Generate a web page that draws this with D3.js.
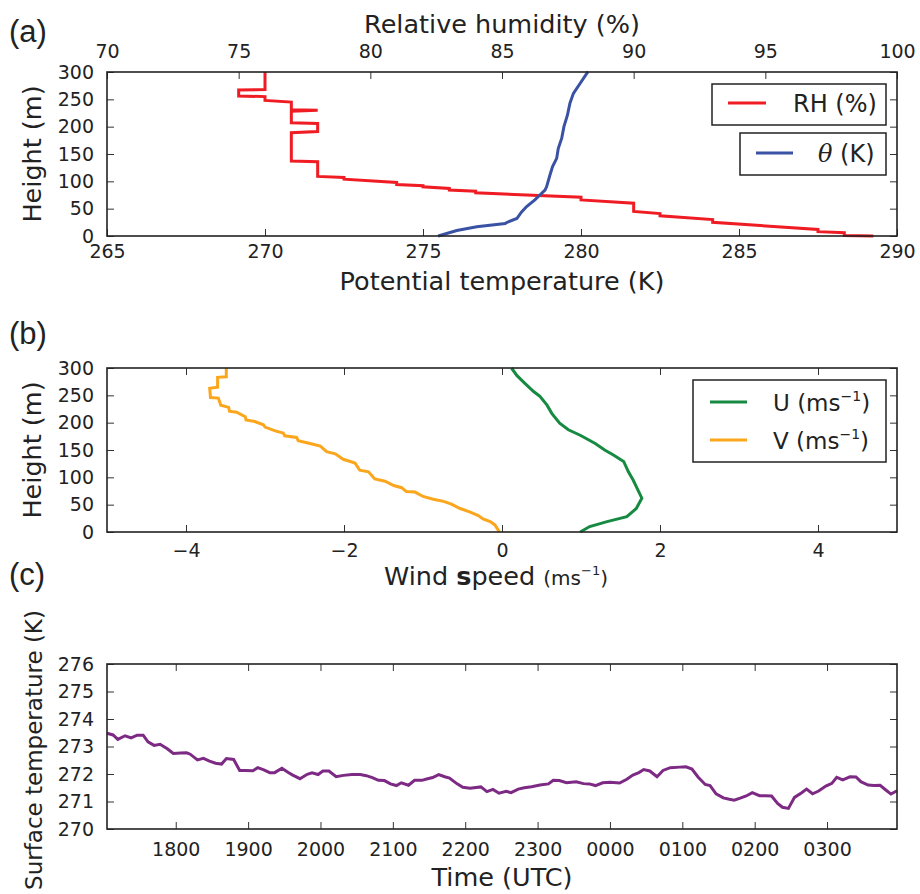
<!DOCTYPE html>
<html>
<head>
<meta charset="utf-8">
<script src="https://cdn.jsdelivr.net/npm/d3@7"></script>
<style>
  body{margin:0;background:#fff;}
  svg text{font-family:"DejaVu Sans",sans-serif;fill:#222;}
</style>
</head>
<body>
<div id="fig"></div>
<script>
/* panel (a): [RH %, height m] and [theta K, height m] */
var rhProfile=[[76.0,300],[76.0,268],[75.0,267],[75.0,256],[76.0,255],[76.0,248],[77.0,245],[77.0,231],[78.0,230],[77.0,228],
  [77.0,207],[78.0,206],[78.0,191],[77.0,189],[77.0,137],[78.0,136],[78.0,109],[79.0,107],[79.0,104],[81.0,98],[81.0,94],
  [82.0,92],[82.0,90],[83.0,87],[83.0,84],[84.0,82],[84.0,79],[88.0,71],[88.0,66],[90.0,60],[90.0,45],[91.0,41],[91.0,37],
  [93.0,30],[93.0,25],[97.0,12],[97.0,8],[98.0,6],[98.0,1],[99.1,0]];
var thetaProfile=[[275.48,0],[276.07,10],[276.7,17],[277.6,23],[277.7,26],[277.97,32],[278.12,44],[278.28,54],[278.54,66],
  [278.70,75],[278.86,84],[278.91,90],[279.02,112],[279.10,127],[279.23,142],[279.28,160],[279.39,179],[279.46,200],
  [279.57,221],[279.65,243],[279.76,261],[279.97,279],[280.20,299],[280.23,300]];

/* panel (b): [wind component m/s, height m] */
var uProfile=[[0.12,300],[0.19,286],[0.29,272],[0.40,257],[0.48,248],[0.57,232],[0.63,217],[0.73,199],[0.84,187],[0.99,177],
  [1.18,162],[1.30,150],[1.41,141],[1.54,129],[1.60,110],[1.66,95],[1.70,83],[1.77,62],[1.70,43],[1.58,28],[1.33,19],[1.11,10],[0.99,0]];
var vProfile=[[-3.49,300],[-3.49,284],[-3.60,283],[-3.60,265],[-3.70,263],[-3.69,246],[-3.59,245],[-3.56,232],[-3.46,228],
  [-3.45,221],[-3.36,219],[-3.25,211],[-3.24,205],[-3.13,202],[-3.02,196],[-3.00,192],[-2.87,185],[-2.77,181],[-2.75,176],
  [-2.60,173],[-2.58,167],[-2.43,162],[-2.30,157],[-2.22,147],[-2.11,143],[-2.01,133],[-1.86,126],[-1.80,113],[-1.69,110],
  [-1.61,97],[-1.48,93],[-1.37,85],[-1.27,81],[-1.21,74],[-1.10,73],[-1.00,65],[-0.87,60],[-0.74,56],[-0.64,51],[-0.53,43],
  [-0.41,37],[-0.30,30],[-0.24,24],[-0.15,19],[-0.09,13],[-0.05,4],[-0.03,0]];

/* panel (c): [minutes after 17:00 UTC, surface temperature K] */
var surfaceTemp=[[3,273.48],[8,273.42],[12,273.26],[18,273.39],[23,273.31],[28,273.41],[33,273.41],[37,273.17],[42,273.04],
  [47,273.08],[53,272.92],[58,272.75],[64,272.76],[69,272.77],[72,272.72],[78,272.51],[83,272.57],[88,272.47],[93,272.39],
  [98,272.36],[102,272.56],[108,272.53],[113,272.13],[117,272.13],[124,272.12],[128,272.23],[133,272.15],[138,272.05],
  [142,272.05],[148,272.21],[153,272.06],[157,271.96],[163,271.83],[169,271.99],[173,272.04],[178,271.98],[182,272.11],
  [187,272.11],[193,271.90],[199,271.95],[206,271.98],[213,271.98],[218,271.94],[223,271.87],[228,271.77],[233,271.76],
  [238,271.64],[243,271.58],[247,271.68],[253,271.59],[258,271.77],[264,271.77],[268,271.82],[273,271.87],[278,271.98],
  [283,271.90],[287,271.85],[293,271.65],[298,271.52],[304,271.48],[313,271.53],[318,271.36],[323,271.44],[328,271.30],
  [334,271.37],[338,271.32],[344,271.45],[349,271.50],[355,271.54],[362,271.60],[369,271.64],[373,271.77],[378,271.76],
  [384,271.68],[392,271.72],[398,271.65],[403,271.64],[408,271.58],[414,271.68],[420,271.70],[428,271.67],[434,271.81],
  [439,271.96],[444,272.05],[448,272.16],[453,272.11],[459,271.90],[464,272.13],[470,272.23],[478,272.25],[483,272.26],
  [488,272.18],[493,271.89],[499,271.62],[503,271.58],[508,271.28],[514,271.13],[519,271.08],[523,271.05],[528,271.12],
  [533,271.20],[538,271.32],[544,271.21],[549,271.21],[554,271.20],[559,270.93],[563,270.79],[568,270.75],[573,271.15],
  [579,271.32],[583,271.45],[588,271.28],[593,271.38],[599,271.56],[604,271.66],[608,271.88],[613,271.79],[619,271.90],
  [624,271.89],[628,271.72],[634,271.60],[639,271.58],[644,271.59],[649,271.41],[653,271.27],[658,271.39]];

/* ticks */
var heightTicks=[0,50,100,150,200,250,300];
var thetaTicks=[265,270,275,280,285,290];
var rhTicks=[70,75,80,85,90,95,100];
var windTicks=[-4,-2,0,2,4];
var tempTicks=[270,271,272,273,274,275,276];
var timeTicks=[60,120,180,240,300,360,420,480,540,600];

var width=920, height=894;
var left=107, right=897;
var svg=d3.select("#fig").append("svg").attr("width",width).attr("height",height);

function tidy(g){
  g.select(".domain").remove();
  g.selectAll(".tick line").attr("stroke","#333").attr("stroke-width",1);
  g.selectAll(".tick text").style("font-size","19px").attr("fill","#222");
}
function frame(top,bottom){
  svg.append("rect").attr("x",left).attr("y",top).attr("width",right-left).attr("height",bottom-top)
    .attr("fill","none").attr("stroke","#222").attr("stroke-width",1.6);
}
function yAxes(scale,vals,pad){
  svg.append("g").attr("transform","translate("+left+",0)")
    .call(d3.axisLeft(scale).tickValues(vals).tickSize(-7).tickPadding(pad).tickFormat(d3.format("d"))).call(tidy);
  svg.append("g").attr("transform","translate("+right+",0)")
    .call(d3.axisRight(scale).tickValues(vals).tickSize(-7).tickFormat("")).call(tidy);
}
function ylabel(txt,x,y,size){
  svg.append("text").attr("transform","translate("+x+","+y+") rotate(-90)")
    .attr("text-anchor","middle").style("font-size",size+"px").text(txt);
}
function panelLetter(txt,y){
  svg.append("text").attr("x",9).attr("y",y).style("font-family","'Liberation Sans',Arial,sans-serif")
    .style("font-size","31px").text(txt);
}

/* ---------- (a) ---------- */
var aTop=72, aBot=236;
var yA=d3.scaleLinear().domain([0,300]).range([aBot,aTop]);
var xTheta=d3.scaleLinear().domain([265,290]).range([left,right]);
var xRH=d3.scaleLinear().domain([70,100]).range([left,right]);

yAxes(yA,heightTicks,13);
svg.append("g").attr("transform","translate(0,"+aBot+")")
  .call(d3.axisBottom(xTheta).tickValues(thetaTicks).tickSize(-7).tickPadding(9)).call(tidy);
svg.append("g").attr("transform","translate(0,"+aTop+")")
  .call(d3.axisTop(xRH).tickValues(rhTicks).tickSize(-7).tickPadding(14)).call(tidy);

svg.append("path").datum(rhProfile)
  .attr("d",d3.line().x(function(d){return xRH(d[0]);}).y(function(d){return yA(d[1]);}))
  .attr("fill","none").attr("stroke","#f01c24").attr("stroke-width",3);
svg.append("path").datum(thetaProfile)
  .attr("d",d3.line().x(function(d){return xTheta(d[0]);}).y(function(d){return yA(d[1]);}))
  .attr("fill","none").attr("stroke","#3a52a3").attr("stroke-width",3);
frame(aTop,aBot);

svg.append("text").attr("x",502).attr("y",33).attr("text-anchor","middle").style("font-size","25.5px").text("Relative humidity (%)");
svg.append("text").attr("x",502).attr("y",290).attr("text-anchor","middle").style("font-size","25.5px").text("Potential temperature (K)");
ylabel("Height (m)",41,154,25.5);
panelLetter("(a)",42);

// legend (a)
svg.append("rect").attr("x",712).attr("y",84).attr("width",174).attr("height",41)
  .attr("fill","#fff").attr("stroke","#222").attr("stroke-width",1.5);
svg.append("line").attr("x1",728).attr("x2",766).attr("y1",103).attr("y2",103).attr("stroke","#f01c24").attr("stroke-width",3);
svg.append("text").attr("x",793).attr("y",112).style("font-size","24px").text("RH (%)");
svg.append("rect").attr("x",740).attr("y",133).attr("width",146).attr("height",42)
  .attr("fill","#fff").attr("stroke","#222").attr("stroke-width",1.5);
svg.append("line").attr("x1",756).attr("x2",793).attr("y1",153).attr("y2",153).attr("stroke","#3a52a3").attr("stroke-width",3);
var thLab=svg.append("text").attr("x",818).attr("y",162).style("font-size","24px");
thLab.append("tspan").style("font-family","'DejaVu Serif',serif").style("font-style","italic").text("θ");
thLab.append("tspan").text(" (K)");

/* ---------- (b) ---------- */
var bTop=368, bBot=532;
var yB=d3.scaleLinear().domain([0,300]).range([bBot,bTop]);
var xW=d3.scaleLinear().domain([-5,5]).range([left,right]);

yAxes(yB,heightTicks,13);
svg.append("g").attr("transform","translate(0,"+bBot+")")
  .call(d3.axisBottom(xW).tickValues(windTicks).tickSize(-7).tickPadding(12)).call(tidy);
svg.append("g").attr("transform","translate(0,"+bTop+")")
  .call(d3.axisTop(xW).tickValues(windTicks).tickSize(-7).tickFormat("")).call(tidy);

var windLine=d3.line().x(function(d){return xW(d[0]);}).y(function(d){return yB(d[1]);});
svg.append("path").datum(uProfile).attr("d",windLine)
  .attr("fill","none").attr("stroke","#178a42").attr("stroke-width",3);
svg.append("path").datum(vProfile).attr("d",windLine)
  .attr("fill","none").attr("stroke","#fba61c").attr("stroke-width",3);
frame(bTop,bBot);

var wl=svg.append("text").attr("x",496).attr("y",585).attr("text-anchor","middle").style("font-size","25.5px");
wl.append("tspan").text("Wind ");
wl.append("tspan").style("font-weight","bold").text("s");
wl.append("tspan").text("peed ");
wl.append("tspan").style("font-size","20px").text("(ms");
wl.append("tspan").style("font-size","13px").attr("dy",-10).text("−1");
wl.append("tspan").style("font-size","20px").attr("dy",10).text(")");
ylabel("Height (m)",41,450,25.5);
panelLetter("(b)",344);

// legend (b)
svg.append("rect").attr("x",693).attr("y",380).attr("width",193).attr("height",82)
  .attr("fill","#fff").attr("stroke","#222").attr("stroke-width",1.5);
[["U","#178a42",402],["V","#fba61c",440]].forEach(function(r){
  svg.append("line").attr("x1",710).attr("x2",747).attr("y1",r[2]).attr("y2",r[2]).attr("stroke",r[1]).attr("stroke-width",3);
  var t=svg.append("text").attr("x",773).attr("y",r[2]+9).style("font-size","23px");
  t.append("tspan").text(r[0]+" (ms");
  t.append("tspan").style("font-size","14px").attr("dy",-10).text("−1");
  t.append("tspan").attr("dy",10).text(")");
});

/* ---------- (c) ---------- */
var cTop=664, cBot=829;
var yC=d3.scaleLinear().domain([270,276]).range([cBot,cTop]);
var xT=d3.scaleLinear().domain([3,658]).range([left,right]);
function hhmm(m){var h=(17+m/60)%24; return (h<10?"0":"")+h+"00";}

yAxes(yC,tempTicks,13);
svg.append("g").attr("transform","translate(0,"+cBot+")")
  .call(d3.axisBottom(xT).tickValues(timeTicks).tickSize(-7).tickPadding(14).tickFormat(hhmm)).call(tidy);
svg.append("g").attr("transform","translate(0,"+cTop+")")
  .call(d3.axisTop(xT).tickValues(timeTicks).tickSize(-7).tickFormat("")).call(tidy);

svg.append("path").datum(surfaceTemp)
  .attr("d",d3.line().x(function(d){return xT(d[0]);}).y(function(d){return yC(d[1]);}))
  .attr("fill","none").attr("stroke","#7d2a84").attr("stroke-width",3);
frame(cTop,cBot);

svg.append("text").attr("x",502).attr("y",886).attr("text-anchor","middle").style("font-size","25.5px").text("Time (UTC)");
ylabel("Surface temperature (K)",42,750,23);
panelLetter("(c)",585);
</script>
</body>
</html>
